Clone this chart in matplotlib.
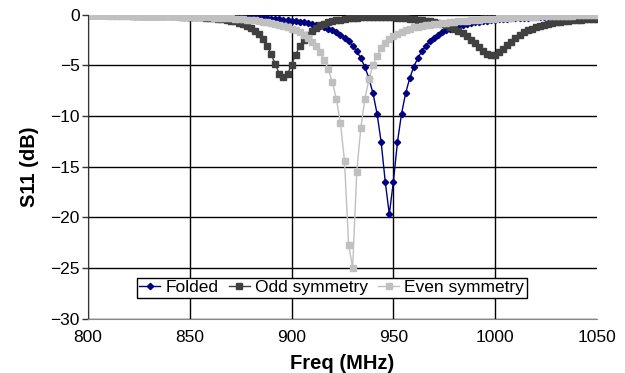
import numpy as np
import matplotlib.pyplot as plt

# frequency sweep, 2 MHz steps
freq = np.arange(800, 1051, 2)

folded = [
    -0.07, -0.07, -0.07, -0.07, -0.07, -0.08, -0.08, -0.08, -0.08, -0.09,
    -0.09, -0.09, -0.09, -0.10, -0.10, -0.10, -0.11, -0.11, -0.12, -0.12,
    -0.12, -0.13, -0.13, -0.14, -0.14, -0.15, -0.16, -0.16, -0.17, -0.18,
    -0.19, -0.19, -0.20, -0.21, -0.22, -0.24, -0.25, -0.26, -0.27, -0.29,
    -0.31, -0.32, -0.34, -0.37, -0.39, -0.42, -0.44, -0.48, -0.51, -0.55,
    -0.59, -0.64, -0.70, -0.76, -0.83, -0.91, -1.00, -1.11, -1.24, -1.38,
    -1.55, -1.76, -2.00, -2.29, -2.64, -3.08, -3.62, -4.30, -5.17, -6.30,
    -7.78, -9.8, -12.6, -16.5, -19.7, -16.5, -12.6, -9.8, -7.78, -6.30,
    -5.17, -4.30, -3.62, -3.08, -2.64, -2.29, -2.00, -1.76, -1.55, -1.38,
    -1.24, -1.11, -1.00, -0.91, -0.83, -0.76, -0.70, -0.64, -0.59, -0.55,
    -0.51, -0.48, -0.44, -0.42, -0.39, -0.37, -0.34, -0.32, -0.31, -0.29,
    -0.27, -0.26, -0.25, -0.24, -0.22, -0.21, -0.20, -0.19, -0.19, -0.18,
    -0.17, -0.16, -0.16, -0.15, -0.14, -0.14,
]

odd_sym = [
    -0.07, -0.07, -0.07, -0.07, -0.07, -0.08, -0.08, -0.08, -0.08, -0.09,
    -0.09, -0.10, -0.11, -0.11, -0.12, -0.12, -0.13, -0.14, -0.14, -0.15,
    -0.16, -0.18, -0.19, -0.20, -0.21, -0.23, -0.25, -0.27, -0.29, -0.31,
    -0.34, -0.39, -0.43, -0.47, -0.53, -0.60, -0.68, -0.79, -0.92, -1.10,
    -1.31, -1.59, -1.96, -2.45, -3.10, -3.94, -4.92, -5.85, -6.2, -5.86,
    -4.94, -3.95, -3.11, -2.47, -1.98, -1.61, -1.30, -1.08, -0.90, -0.76,
    -0.65, -0.57, -0.50, -0.44, -0.39, -0.35, -0.32, -0.29, -0.27, -0.26,
    -0.25, -0.25, -0.25, -0.26, -0.27, -0.29, -0.31, -0.34, -0.37, -0.41,
    -0.45, -0.49, -0.54, -0.60, -0.67, -0.75, -0.84, -0.95, -1.07, -1.22,
    -1.40, -1.61, -1.86, -2.15, -2.48, -2.85, -3.23, -3.59, -3.87, -4.0,
    -3.95, -3.74, -3.42, -3.04, -2.67, -2.31, -2.00, -1.73, -1.55, -1.38,
    -1.24, -1.12, -1.02, -0.92, -0.85, -0.78, -0.72, -0.67, -0.62, -0.58,
    -0.54, -0.50, -0.47, -0.45, -0.42, -0.40,
]

even_sym = [
    -0.08, -0.09, -0.09, -0.09, -0.09, -0.10, -0.10, -0.10, -0.11, -0.11,
    -0.12, -0.12, -0.13, -0.13, -0.13, -0.14, -0.15, -0.15, -0.16, -0.17,
    -0.17, -0.18, -0.19, -0.20, -0.21, -0.22, -0.23, -0.24, -0.25, -0.27,
    -0.28, -0.30, -0.32, -0.34, -0.36, -0.38, -0.41, -0.44, -0.47, -0.50,
    -0.54, -0.58, -0.63, -0.69, -0.75, -0.82, -0.90, -1.00, -1.11, -1.23,
    -1.38, -1.56, -1.76, -2.01, -2.32, -2.69, -3.15, -3.73, -4.47, -5.41,
    -6.66, -8.35, -10.7, -14.5, -22.7, -25.0, -15.5, -11.2, -8.3, -6.4,
    -5.0, -4.05, -3.35, -2.85, -2.45, -2.15, -1.9, -1.7, -1.52, -1.38,
    -1.26, -1.18, -1.11, -1.05, -1.0, -0.95, -0.9, -0.85, -0.8, -0.75,
    -0.71, -0.67, -0.63, -0.6, -0.56, -0.53, -0.5, -0.47, -0.44, -0.42,
    -0.4, -0.37, -0.35, -0.33, -0.31, -0.29, -0.27, -0.25, -0.24, -0.22,
    -0.21, -0.19, -0.18, -0.17, -0.15, -0.14, -0.13, -0.12, -0.11, -0.1,
    -0.09, -0.08, -0.07, -0.06, -0.05, -0.05,
]

plt.rcParams['font.family'] = ['Liberation Sans', 'DejaVu Sans']

fig = plt.figure(figsize=(6.25, 3.73), dpi=100)
ax = fig.add_axes([0.141, 0.146, 0.814, 0.815])

ax.plot(freq, folded, color='#000080', lw=1, marker='D', ms=3.2, label='Folded')
ax.plot(freq, odd_sym, color='#404040', lw=1, marker='s', ms=4, label='Odd symmetry')
ax.plot(freq, even_sym, color='#c0c0c0', lw=1, marker='s', ms=3.8, label='Even symmetry')

ax.set_xlim(800, 1050)
ax.set_ylim(-30, 0)
ax.set_xticks([800, 850, 900, 950, 1000, 1050])
ax.set_yticks([0, -5, -10, -15, -20, -25, -30])
ax.grid(True, color='black', lw=1)
ax.xaxis.get_gridlines()[-1].set_visible(False)
ax.set_axisbelow(True)

for side in ['top', 'right']:
    ax.spines[side].set_visible(False)
ax.spines['left'].set_color('#333333')
ax.spines['bottom'].set_color('#888888')
ax.tick_params(axis='y', length=4, width=1, color='#333333', labelsize=12.5, pad=2)
ax.tick_params(axis='x', length=0, labelsize=12.5, pad=8)

ax.set_xlabel('Freq (MHz)', fontsize=14.5, fontweight='bold', labelpad=7)
ax.set_ylabel('S11 (dB)', fontsize=14.5, fontweight='bold', labelpad=8)

leg = ax.legend(loc='center', bbox_to_anchor=(0.479, 0.101), ncol=3, fontsize=12.5,
                frameon=True, fancybox=False, edgecolor='black', framealpha=1,
                handlelength=1.2, handletextpad=0.3, columnspacing=0.6,
                borderpad=0.15, borderaxespad=0)
leg.get_frame().set_linewidth(1)

fig.savefig('out.png', dpi=100)
